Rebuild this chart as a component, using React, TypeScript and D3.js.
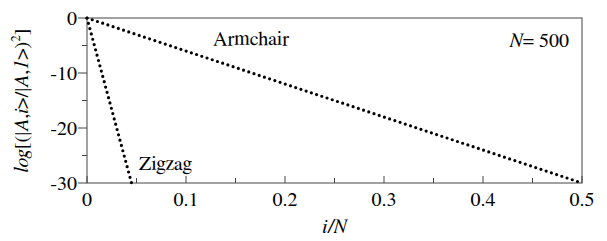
import * as d3 from 'd3'

// series: straight decay in log space
const armchairX = [0, 0.5]
const armchairY = [0, -30]
const zigzagX = [0, 0.045]
const zigzagY = [0, -30]

const xTicks = [0, 0.1, 0.2, 0.3, 0.4, 0.5]
const xMinor = [0.05, 0.15, 0.25, 0.35, 0.45]
const yTicks = [0, -10, -20, -30]
const yMinor = [-5, -15, -25]

const W = 607
const H = 241
const SERIF = "FreeSerif, Tinos, 'Times New Roman', 'Liberation Serif'"

export default function App() {
    const left = 87, right = 582, top = 18, bottom = 183
    const x = d3.scaleLinear().domain([0, 0.5]).range([left, right])
    const y = d3.scaleLinear().domain([0, -30]).range([top, bottom])
    const line = d3.line<[number, number]>().x(d => x(d[0])).y(d => y(d[1]))
    const series = [
        armchairX.map((v, i) => [v, armchairY[i]] as [number, number]),
        zigzagX.map((v, i) => [v, zigzagY[i]] as [number, number]),
    ]
    const yParts: [string, boolean][] = [
        ['log', true], ['[(|', false], ['A', true], [',', false], ['i', true],
        ['>/|', false], ['A', true], [',', false], ['1', true], ['>)', false],
    ]
    const ff = { fontFamily: SERIF }

    return (
        <svg width={W} height={H} fontSize={20}
            style={{ position: 'absolute', left: 0, top: 0, background: '#fff', fontFamily: SERIF }}>
            <rect x={left} y={top} width={right - left} height={bottom - top}
                fill="none" stroke="#444" strokeWidth={1} />

            {/* y axis */}
            {yTicks.map(d => (
                <line key={'y' + d} x1={left - 9} x2={left} y1={y(d)} y2={y(d)} stroke="#444" />
            ))}
            {yTicks.map(d => (
                <text key={'yl' + d} x={left - 10} y={y(d) + 7} textAnchor="end" style={ff}>
                    {d === 0 ? '0' : `-${Math.abs(d)}`}
                </text>
            ))}
            {yMinor.map(d => (
                <line key={'ym' + d} x1={left - 5} x2={left} y1={y(d)} y2={y(d)} stroke="#444" />
            ))}

            {/* x axis */}
            {xTicks.map(d => (
                <line key={'x' + d} x1={x(d)} x2={x(d)} y1={bottom - 7} y2={bottom} stroke="#444" />
            ))}
            {xTicks.map(d => (
                <text key={'xl' + d} x={x(d)} y={bottom + 23} textAnchor="middle" style={ff}>
                    {d === 0 ? '0' : d3.format('.1f')(d)}
                </text>
            ))}
            {xMinor.map(d => (
                <line key={'xm' + d} x1={x(d)} x2={x(d)} y1={bottom - 5} y2={bottom} stroke="#444" />
            ))}

            {/* dotted series */}
            {series.map((s, i) => (
                <path key={i} d={line(s) ?? ''} fill="none" stroke="#000" strokeWidth={3.2}
                    strokeLinecap="round" strokeDasharray="0 5.5" />
            ))}

            {/* annotations */}
            <text x={213} y={45} style={ff}>Armchair</text>
            <text x={139} y={170} style={ff}>Zigzag</text>
            <text x={569} y={47} textAnchor="end" style={ff}>
                <tspan fontStyle="italic">N</tspan>
                <tspan>= 500</tspan>
            </text>

            {/* axis titles */}
            <text x={(left + right) / 2} y={233} textAnchor="middle" fontStyle="italic" style={ff}>i/N</text>
            <text transform={`translate(28,${(top + bottom) / 2}) rotate(-90)`} textAnchor="middle" style={ff}>
                {yParts.map(([t, it], i) => (
                    <tspan key={i} fontStyle={it ? 'italic' : 'normal'}>{t}</tspan>
                ))}
                <tspan fontSize={13} dy={-8}>2</tspan>
                <tspan dy={8}>]</tspan>
            </text>
        </svg>
    )
}
